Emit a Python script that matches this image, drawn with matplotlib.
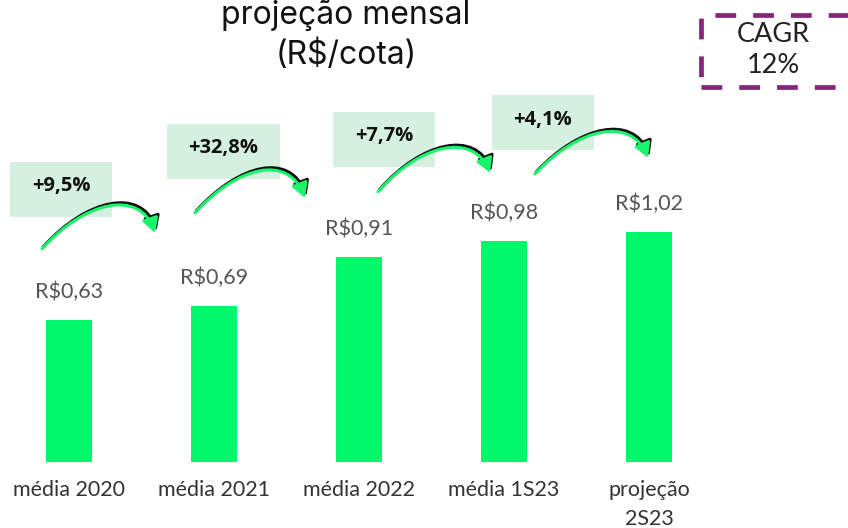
import matplotlib
matplotlib.use("Agg")
import matplotlib.pyplot as plt
from matplotlib.patches import Rectangle, FancyArrowPatch
from matplotlib.path import Path

categories = ["média 2020", "média 2021", "média 2022", "média 1S23", "projeção\n2S23"]
values = [0.63, 0.69, 0.91, 0.98, 1.02]
value_labels = ["R$0,63", "R$0,69", "R$0,91", "R$0,98", "R$1,02"]
growth_labels = ["+9,5%", "+32,8%", "+7,7%", "+4,1%"]
cagr_label = "CAGR\n12%"

W, H = 848, 528
fig = plt.figure(figsize=(W / 100, H / 100), dpi=100)
fig.patch.set_facecolor("white")

# axes: bar baseline at pixel y=462, bar 0 center at x=69, spacing 145 px
base_px = 462
ax = fig.add_axes([0, 1 - base_px / H, 1, base_px / H])
ax.set_xlim(-69 / 145, (W - 69) / 145)
ax.set_ylim(0, base_px / 225.6)
ax.axis("off")

x = list(range(len(values)))
ax.bar(x, values, width=46 / 145, color="#00F96B", zorder=2)
for xi, v, lab in zip(x, values, value_labels):
    ax.annotate(lab, (xi, v), xytext=(0, 28), textcoords="offset pixels",
                ha="center", va="center", fontsize=15.5, color="#555555",
                family="Lato")

for xi, c in zip(x, categories):
    ax.annotate(c, (xi, 0), xytext=(0, -18), textcoords="offset pixels",
                ha="center", va="top", fontsize=15.5,
                color="#333333", family="Lato", linespacing=1.55)

def px(xp, yp):
    return (xp / W, 1 - yp / H)

# title (top line partly outside the figure in the reference)
fig.text(*px(346, 24), "projeção mensal", ha="center", va="baseline",
         fontsize=23, family="Inter", color="#111111")
fig.text(*px(346, 55), "(R$/cota)", ha="center", va="center",
         fontsize=23, family="Inter", color="#111111")

# CAGR dashed box
x0, y0 = px(701, 87)
x1, y1 = px(862, 15)
fig.patches.append(Rectangle((x0, y0), x1 - x0, y1 - y0, transform=fig.transFigure,
                             fill=False, edgecolor="#84277A", linewidth=3.4,
                             linestyle=(0, (4.4, 3.6)), clip_on=False))
fig.text(*px(773, 50), cagr_label, ha="center", va="center", fontsize=19.5,
         family="Lato", color="#222222", linespacing=1.3)

# growth boxes and arrows
boxes = [(10, 162, 112, 217), (167, 124, 280, 179), (333, 112, 435, 167), (492, 95, 594, 150)]
arrows = [((42, 248), (85, 200), (140, 188), (155, 232)),
          ((195, 212), (238, 165), (288, 153), (305, 197)),
          ((378, 191), (420, 143), (473, 131), (490, 172)),
          ((535, 173), (578, 127), (631, 115), (648, 157))]
for (bx0, by0, bx1, by1), lab in zip(boxes, growth_labels):
    a = px(bx0, by1)
    b = px(bx1, by0)
    fig.patches.append(Rectangle(a, b[0] - a[0], b[1] - a[1], transform=fig.transFigure,
                                 facecolor="#D5F0E0", edgecolor="none", zorder=1))
    fig.text(*px((bx0 + bx1) / 2, (by0 + by1) / 2 - 3), lab, ha="center", va="center",
             fontsize=14.5, fontweight="bold", family="Open Sans", color="#111111", zorder=3)

for pts in arrows:
    for dx, dy, col, lw in [(1.5, -1.2, "#111111", 2.4), (0, 0.8, "#19F56A", 2.2)]:
        verts = [px(p[0] + dx, p[1] + dy) for p in pts]
        path = Path(verts, [Path.MOVETO, Path.CURVE4, Path.CURVE4, Path.CURVE4])
        arr = FancyArrowPatch(path=path, transform=fig.transFigure,
                              arrowstyle="-|>,head_length=7,head_width=4",
                              color=col, linewidth=lw, zorder=4, mutation_scale=1.2)
        fig.patches.append(arr)

fig.savefig("out.png", dpi=100, facecolor="white")
